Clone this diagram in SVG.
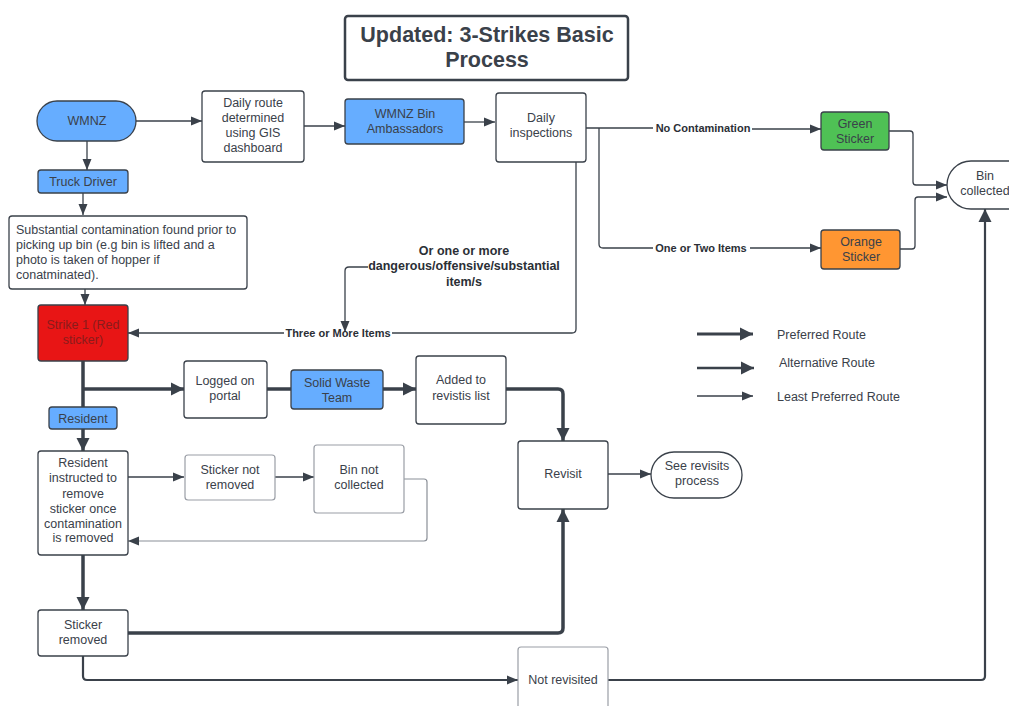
<svg xmlns="http://www.w3.org/2000/svg" width="1009" height="706" viewBox="0 0 1009 706">
<defs>
<style>
text{font-family:"Liberation Sans",Arial,sans-serif;fill:#3a414a;font-size:12.5px;text-anchor:middle;dominant-baseline:central}
.b{font-weight:bold;font-size:11px;fill:#2b2f36}
.bb{font-weight:bold;font-size:12.5px;fill:#2b2f36}
.t{font-weight:bold;font-size:21.5px;fill:#3a414a}
.l{text-anchor:start}
.n{fill:#fff;stroke:#3a414a;stroke-width:1.3}
.g{fill:#fff;stroke:#9a9ea6;stroke-width:1.2}
.blue{fill:#66adff;stroke:#3a414a;stroke-width:1.3}
.c{fill:none;stroke:#3a414a;stroke-width:1.3;stroke-linejoin:round}
.cg{fill:none;stroke:#8a8f97;stroke-width:1.2;stroke-linejoin:round}
.k{fill:none;stroke:#3a414a;stroke-width:3.5;stroke-linejoin:round}
.m{fill:none;stroke:#3a414a;stroke-width:2.2;stroke-linejoin:round}
</style>
<marker id="a" markerUnits="userSpaceOnUse" markerWidth="12" markerHeight="10" refX="11" refY="5" orient="auto"><path d="M0,0.5 L11,5 L0,9.5 Z" fill="#3a414a"/></marker>
<marker id="ak" markerUnits="userSpaceOnUse" markerWidth="14" markerHeight="14" refX="13" refY="7" orient="auto"><path d="M0,0.5 L13,7 L0,13.5 Z" fill="#3a414a"/></marker>
</defs>

<g id="title"><rect x="345" y="16" width="283" height="64" rx="3" fill="#fff" stroke="#3a414a" stroke-width="2.5"/>
<text class="t" x="487" y="35">Updated: 3-Strikes Basic</text><text class="t" x="487" y="60">Process</text></g>

<g id="connectors">
<path class="c" d="M136,121 H202" marker-end="url(#a)"/>
<path class="c" d="M304,126 H345" marker-end="url(#a)"/>
<path class="c" d="M464,122 H495" marker-end="url(#a)"/>
<path class="c" d="M87,141 V170" marker-end="url(#a)"/>
<path class="c" d="M83,193 V215" marker-end="url(#a)"/>
<path class="c" d="M85,289 V305" marker-end="url(#a)"/>
<path class="c" d="M586,128 H653 M752,129 H821" marker-end="url(#a)"/>
<path class="c" d="M599,128 V244 Q599,248 603,248 H653 M750,248 H821" marker-end="url(#a)"/>
<path class="c" d="M889,131 H910 Q913,131 913,134 V182 Q913,185 916,185 H947" marker-end="url(#a)"/>
<path class="c" d="M900,249 H912 Q915,249 915,246 V200 Q915,197 918,197 H947" marker-end="url(#a)"/>
<path class="c" d="M576,162 V329 Q576,333 572,333 H392 M284,333 H128" marker-end="url(#a)"/>
<path class="c" d="M368,267 H349 Q345,267 345,271 V332" marker-end="url(#a)"/>
<path class="k" d="M83,361 V407"/>
<path class="k" d="M83,389 H184" marker-end="url(#ak)"/>
<path class="k" d="M267,389 H291"/>
<path class="k" d="M383,389 H416" marker-end="url(#ak)"/>
<path class="k" d="M506,389 H558 Q563,389 563,394 V441" marker-end="url(#ak)"/>
<path class="k" d="M83,429 V451" marker-end="url(#ak)"/>
<path class="c" d="M128,477 H184" marker-end="url(#a)"/>
<path class="c" d="M275,477 H314" marker-end="url(#a)"/>
<path class="cg" d="M404,479 H424 Q427,479 427,482 V538 Q427,541 424,541 H128" marker-end="url(#a)"/>
<path class="k" d="M83,555 V610" marker-end="url(#ak)"/>
<path class="k" d="M128,633 H558 Q563,633 563,628 V509" marker-end="url(#ak)"/>
<path class="m" d="M83,656 V676 Q83,680 87,680 H518" marker-end="url(#a)"/>
<path class="m" d="M608,680 H981 Q985,680 985,676 V209" marker-end="url(#ak)"/>
<path class="c" d="M608,474 H651" marker-end="url(#a)"/>
</g>

<g id="labels">
<text class="b" x="703" y="128">No Contamination</text>
<text class="b" x="701" y="248">One or Two Items</text>
<text class="b" x="338" y="333">Three or More Items</text>
<text class="bb" x="464" y="251">Or one or more</text>
<text class="bb" x="464" y="266">dangerous/offensive/substantial</text>
<text class="bb" x="464" y="282">item/s</text>
</g>

<g id="wmnz"><rect class="blue" x="37" y="101" width="99" height="40" rx="20"/><text x="87" y="121">WMNZ</text></g>
<g id="daily-route"><rect class="n" x="202" y="91" width="102" height="71" rx="3"/>
<text x="253" y="103">Daily route</text><text x="253" y="118">determined</text><text x="253" y="133">using GIS</text><text x="253" y="148">dashboard</text></g>
<g id="ambassadors"><rect class="blue" x="345" y="99" width="119" height="45" rx="3"/>
<text x="405" y="114">WMNZ Bin</text><text x="405" y="129">Ambassadors</text></g>
<g id="inspections"><rect class="n" x="496" y="93" width="90" height="69" rx="3"/>
<text x="541" y="118">Daily</text><text x="541" y="133">inspections</text></g>
<g id="green"><rect x="821" y="112" width="68" height="38" rx="3" fill="#4fc155" stroke="#3a414a" stroke-width="1.3"/>
<text x="855" y="124">Green</text><text x="855" y="139">Sticker</text></g>
<g id="orange"><rect x="821" y="230" width="79" height="39" rx="3" fill="#ff9632" stroke="#3a414a" stroke-width="1.3"/>
<text x="861" y="242">Orange</text><text x="861" y="257">Sticker</text></g>
<g id="bin-collected"><rect class="n" x="947" y="161" width="90" height="48" rx="24"/>
<text x="985" y="176">Bin</text><text x="985" y="191">collected</text></g>
<g id="truck"><rect class="blue" x="38" y="170" width="90" height="23" rx="3"/><text x="83" y="182">Truck Driver</text></g>
<g id="contamination"><rect class="n" x="9" y="216" width="238" height="73" rx="3"/>
<text class="l" x="16" y="230">Substantial contamination found prior to</text>
<text class="l" x="16" y="245">picking up bin (e.g bin is lifted and a</text>
<text class="l" x="16" y="260">photo is taken of hopper if</text>
<text class="l" x="16" y="275">conatminated).</text></g>
<g id="strike1"><rect x="38" y="305" width="90" height="56" rx="3" fill="#e81515" stroke="#3a414a" stroke-width="1.3"/>
<text x="83" y="325" style="fill:#8a1c1c">Strike 1 (Red</text><text x="83" y="340" style="fill:#8a1c1c">sticker)</text></g>
<g id="logged"><rect class="n" x="184" y="361" width="83" height="57" rx="3"/>
<text x="225" y="381">Logged on</text><text x="225" y="396">portal</text></g>
<g id="solid-waste"><rect class="blue" x="291" y="370" width="92" height="39" rx="3"/>
<text x="337" y="383">Solid Waste</text><text x="337" y="398">Team</text></g>
<g id="added"><rect class="n" x="416" y="356" width="90" height="68" rx="3"/>
<text x="461" y="380">Added to</text><text x="461" y="396">revistis list</text></g>
<g id="resident"><rect class="blue" x="49" y="407" width="68" height="22" rx="3"/><text x="83" y="419">Resident</text></g>
<g id="instructed"><rect class="n" x="38" y="451" width="90" height="104" rx="3"/>
<text x="83" y="463">Resident</text><text x="83" y="478">instructed to</text><text x="83" y="494">remove</text><text x="83" y="509">sticker once</text><text x="83" y="524">contamination</text><text x="83" y="538">is removed</text></g>
<g id="not-removed"><rect class="g" x="185" y="455" width="90" height="45" rx="3"/>
<text x="230" y="470">Sticker not</text><text x="230" y="485">removed</text></g>
<g id="bin-not-collected"><rect class="g" x="314" y="445" width="90" height="68" rx="3"/>
<text x="359" y="470">Bin not</text><text x="359" y="485">collected</text></g>
<g id="revisit"><rect class="n" x="518" y="441" width="90" height="68" rx="3"/><text x="563" y="474">Revisit</text></g>
<g id="see-revisits"><rect class="n" x="651" y="452" width="91" height="46" rx="23"/>
<text x="697" y="466">See revisits</text><text x="697" y="481">process</text></g>
<g id="sticker-removed"><rect class="n" x="38" y="610" width="90" height="46" rx="3"/>
<text x="83" y="625">Sticker</text><text x="83" y="640">removed</text></g>
<g id="not-revisited"><rect class="g" x="518" y="647" width="90" height="70" rx="3"/><text x="563" y="680">Not revisited</text></g>

<g id="legend">
<path class="k" d="M697,334 H753" style="stroke-width:3" marker-end="url(#ak)"/>
<text class="l" x="777" y="335">Preferred Route</text>
<path class="m" d="M697,368 H754" style="stroke-width:2.6" marker-end="url(#ak)"/>
<text class="l" x="779" y="363">Alternative Route</text>
<path class="c" d="M697,396 H753" marker-end="url(#a)"/>
<text class="l" x="777" y="397">Least Preferred Route</text>
</g>
</svg>
